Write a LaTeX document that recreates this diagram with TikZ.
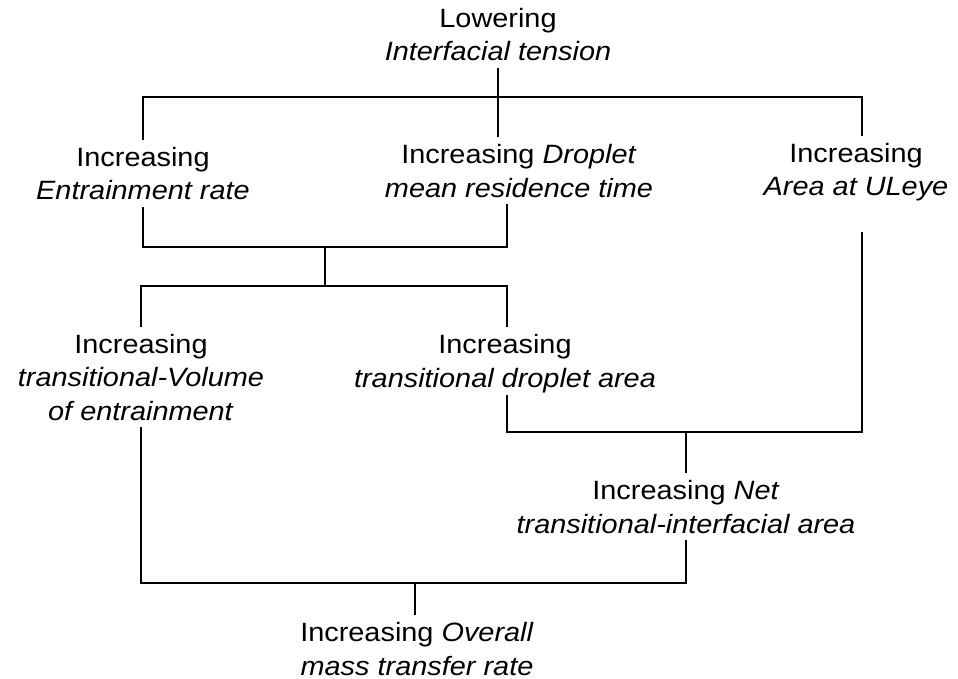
\documentclass[tikz,border=0pt]{standalone}
\usepackage{fontspec}
\setmainfont{Liberation Sans}[FakeStretch=1.09]
\begin{document}
\begin{tikzpicture}[x=1pt,y=-1pt,
  label text/.style={align=center, anchor=base, inner xsep=0pt, inner ysep=7pt,
    font=\fontsize{26.5}{33.5}\selectfont},
  link/.style={line width=1.8pt, line cap=butt, line join=miter}]
\useasboundingbox (0,0) rectangle (958,679);

% statements (placed by the baseline of their last line)
\node[label text] (low)   at (498,61)  {Lowering\\\textit{Interfacial tension}};
\node[label text] (ent)   at (143,200) {Increasing\\\textit{Entrainment rate}};
\node[label text] (res)   at (519,197) {Increasing \textit{Droplet}\\\textit{mean residence time}};
\node[label text] (uleye) at (856,196) {Increasing\\\textit{Area at ULeye}};
\node[label text] (vol)   at (141,420) {Increasing\\\textit{transitional-Volume}\\\textit{of entrainment}};
\node[label text] (tda)   at (505,387) {Increasing\\\textit{transitional droplet area}};
\node[label text] (net)   at (686,533) {Increasing \textit{Net}\\\textit{transitional-interfacial area}};
\node[label text] (mtr)   at (417,675) {Increasing \textit{Overall}\\\textit{mass transfer rate}};

% branch points and columns
\coordinate (j0)   at (498,97);
\coordinate (barR) at (862,97);
\coordinate (colR) at (507,0);
\coordinate (j1)   at (325,247);
\coordinate (j2)   at (325,286);
\coordinate (j3)   at (686,432);
\coordinate (j4)   at (415,583);

% lowering tension -> three effects
\draw[link] (low.south) -- (j0);
\draw[link] (ent.north) |- (j0) -| (uleye.north -| barR);
\draw[link] (j0) -- (res.north -| j0);

% entrainment + residence time -> transitional volume / droplet area
\draw[link] (ent.south) |- (j1) -| (res.south -| colR);
\draw[link] (j1) -- (j2);
\draw[link] (vol.north) |- (j2) -| (tda.north -| colR);

% droplet area + ULeye area -> net area
\draw[link] ([yshift=5pt]tda.south -| colR) |- (j3) -| ([yshift=-23pt]uleye.south -| barR);
\draw[link] (j3) -- (net.north);

% volume + net area -> overall rate
\draw[link] (vol.south) |- (j4) -| (net.south);
\draw[link] (j4) -- (mtr.north -| j4);
\end{tikzpicture}
\end{document}
